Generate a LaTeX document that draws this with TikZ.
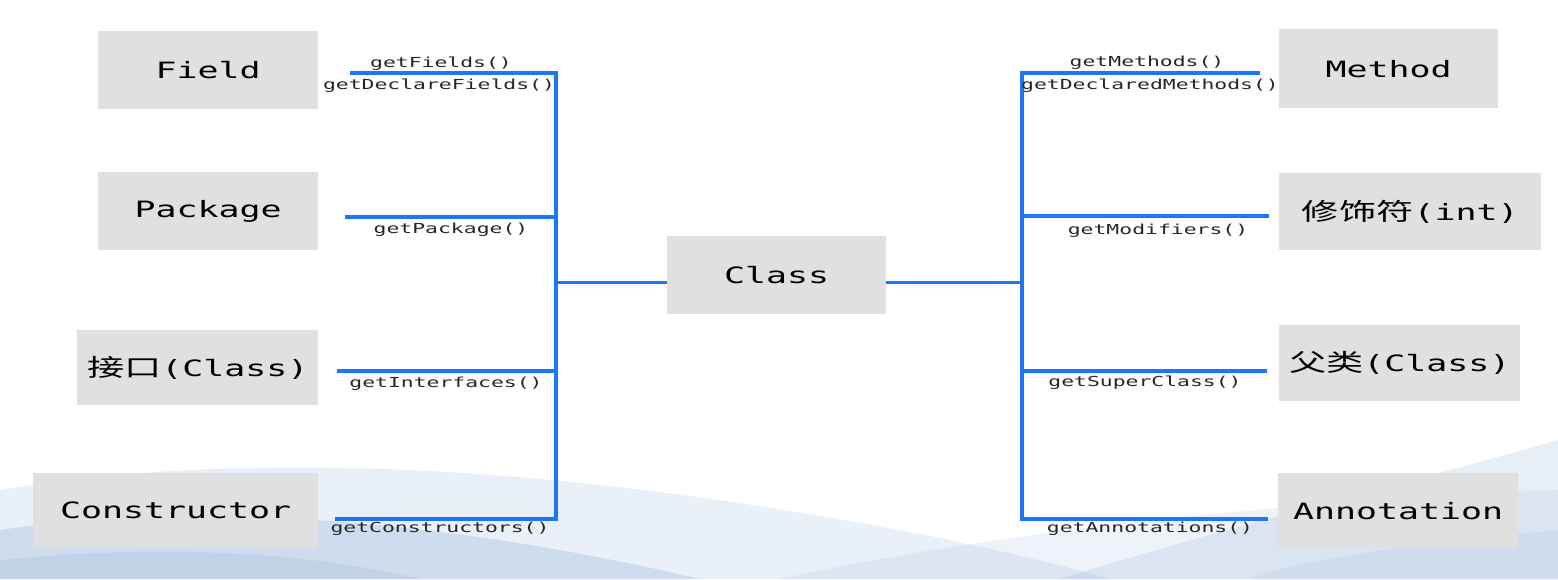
\documentclass[tikz,border=0pt]{standalone}
\usepackage{fontspec}
\setmonofont{DejaVu Sans Mono}
\newfontfamily\cjkFont{Noto Sans CJK SC}
\usetikzlibrary{positioning}
\definecolor{lineColor}{RGB}{28,118,245}
\definecolor{boxColor}{RGB}{224,224,224}
\definecolor{waveColor}{RGB}{140,172,212}
\tikzstyle{slide} = [x = 1pt, y = -1pt]
\tikzstyle{memberBoxStyle} = [fill=boxColor, inner sep=0pt, anchor=north west, font=\fontsize{22.5}{26}\ttfamily]
\tikzstyle{linkLine} = [color=lineColor, line width=3.2pt]
\tikzstyle{methodText} = [font=\fontsize{13.8}{16}\ttfamily, text=black!85, inner sep=0pt]
\tikzstyle{waveStyle} = [fill=waveColor]
\newcommand{\wide}[1]{\scalebox{1.55}[1]{#1}}
\newcommand{\zh}[1]{{\cjkFont\fontsize{24}{26}\selectfont #1}}
\newcommand{\memberBox}[6]{\node [memberBoxStyle, minimum width=#4, minimum height=#5] (#1) at (#2,#3) {\wide{#6}};}
\newcommand{\methodLabel}[4]{\node [methodText] (#1) at (#2,#3) {\wide{#4}};}
\begin{document}
\begin{tikzpicture}[slide]
  \useasboundingbox (0,0) rectangle (1558,579);

  % background waves
  \fill [waveStyle, opacity=.18] (0,490) .. controls (300,440) and (650,480) .. (950,540) .. controls (1020,555) and (1080,570) .. (1110,579) -- (0,579) -- cycle;
  \fill [waveStyle, opacity=.3] (0,530) .. controls (200,500) and (450,520) .. (700,579) -- (0,579) -- cycle;
  \fill [waveStyle, opacity=.2] (0,560) .. controls (150,545) and (300,550) .. (420,579) -- (0,579) -- cycle;
  \fill [waveStyle, opacity=.2] (1558,440) .. controls (1420,480) and (1250,520) .. (1060,579) -- (1558,579) -- cycle;
  \fill [waveStyle, opacity=.15] (780,579) .. controls (1000,530) and (1300,500) .. (1558,490) -- (1558,579) -- cycle;
  \fill [waveStyle, opacity=.15] (1558,530) .. controls (1400,545) and (1300,560) .. (1250,579) -- (1558,579) -- cycle;

  % boxes
  \memberBox{field}{98}{31}{220}{78}{Field}
  \memberBox{package}{98}{172}{220}{78}{Package}
  \memberBox{interface}{77}{330}{241}{75}{\zh{接口}(Class)}
  \memberBox{constructor}{33}{473}{285}{75}{Constructor}
  \memberBox{class}{667}{236}{219}{78}{Class}
  \memberBox{method}{1279}{29}{219}{79}{Method}
  \memberBox{modifier}{1279}{173}{262}{77}{\zh{修饰符}(int)}
  \memberBox{superClass}{1279}{325}{241}{76}{\zh{父类}(Class)}
  \memberBox{annotation}{1278}{473}{240}{75}{Annotation}

  % trunks and free ends
  \coordinate (leftTop) at (556,73);
  \coordinate (leftBottom) at (556,519);
  \coordinate (rightTop) at (1022,73);
  \coordinate (rightBottom) at (1022,519);
  \coordinate (fieldEnd) at (350,73);
  \coordinate (packageEnd) at (345,217);
  \coordinate (interfaceEnd) at (337,371);
  \coordinate (constructorEnd) at (335,519);
  \coordinate (methodEnd) at (1260,73);
  \coordinate (modifierEnd) at (1269,216);
  \coordinate (superClassEnd) at (1267,371);
  \coordinate (annotationEnd) at (1268,519);

  \draw [linkLine] (fieldEnd) -- (leftTop) -- (leftBottom) -- (constructorEnd);
  \draw [linkLine] (methodEnd) -- (rightTop) -- (rightBottom) -- (annotationEnd);
  \foreach \branch in {packageEnd, interfaceEnd}
    \draw [linkLine] (\branch) -- (\branch -| leftTop);
  \foreach \branch in {modifierEnd, superClassEnd}
    \draw [linkLine] (\branch) -- (\branch -| rightTop);
  \draw [linkLine] ([yshift=-7pt]class.west) -- ([yshift=-7pt]class.west -| leftTop);
  \draw [linkLine] ([yshift=-7pt]class.east) -- ([yshift=-7pt]class.east -| rightTop);

  % method names
  \methodLabel{getFields}{441}{64}{getFields()}
  \methodLabel{getDeclareFields}{439}{86}{getDeclareFields()}
  \methodLabel{getPackage}{451}{230}{getPackage()}
  \methodLabel{getInterfaces}{446}{384}{getInterfaces()}
  \methodLabel{getConstructors}{440}{529}{getConstructors()}
  \methodLabel{getMethods}{1147}{63}{getMethods()}
  \methodLabel{getDeclaredMethods}{1150}{86}{getDeclaredMethods()}
  \methodLabel{getModifiers}{1158}{231}{getModifiers()}
  \methodLabel{getSuperClass}{1145}{383}{getSuperClass()}
  \methodLabel{getAnnotations}{1150}{529}{getAnnotations()}
\end{tikzpicture}
\end{document}
